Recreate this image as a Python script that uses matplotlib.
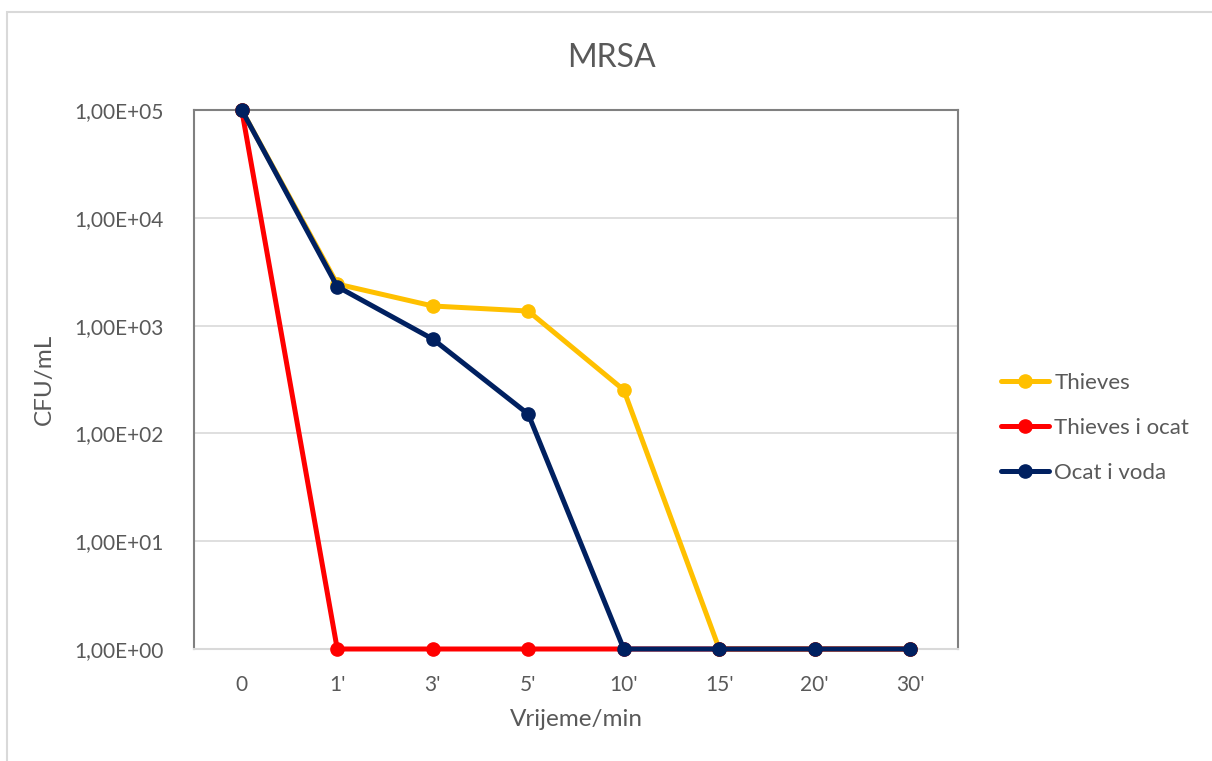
import matplotlib
matplotlib.use("Agg")
import matplotlib.pyplot as plt
from matplotlib.patches import Rectangle
from matplotlib.ticker import FixedLocator, NullLocator

categories = ["0", "1'", "3'", "5'", "10'", "15'", "20'", "30'"]
thieves = [1e5, 2430, 1520, 1365, 253, 1, 1, 1]
thieves_ocat = [1e5, 1, 1, 1, 1, 1, 1, 1]
ocat_voda = [1e5, 2300, 750, 151, 1, 1, 1, 1]
series_names = ["Thieves", "Thieves i ocat", "Ocat i voda"]
colors = ["#FFC000", "#FF0000", "#002060"]
yticks = [1e0, 1e1, 1e2, 1e3, 1e4, 1e5]
ytick_labels = ["1,00E+00", "1,00E+01", "1,00E+02", "1,00E+03", "1,00E+04", "1,00E+05"]

plt.rcParams['font.family'] = ['Lato', 'DejaVu Sans']
txt = "#595959"

fig = plt.figure(figsize=(12.12, 7.61), dpi=100)
fig.patches.append(Rectangle((7/1212, -0.01), 1.02, 1 - 12/761 + 0.01,
                             transform=fig.transFigure, fill=False,
                             edgecolor="#D9D9D9", linewidth=1.5))

ax = fig.add_axes([194/1212, 1 - 649/761, (958 - 194)/1212, (649 - 110)/761])
x = list(range(len(categories)))
for vals, name, c in zip([thieves, thieves_ocat, ocat_voda], series_names, colors):
    ax.plot(x, vals, color=c, linewidth=3.6, marker="o", markersize=9.5,
            label=name, solid_capstyle="round", zorder=3, clip_on=False)

ax.set_yscale("log")
ax.set_ylim(1, 1e5)
ax.set_xlim(-0.5, len(categories) - 0.5)
ax.yaxis.set_major_locator(FixedLocator(yticks))
ax.yaxis.set_minor_locator(NullLocator())
ax.set_yticks(yticks)
ax.set_yticklabels(ytick_labels)
ax.set_xticks(x)
ax.set_xticklabels(categories)
ax.tick_params(axis="both", length=0, labelsize=15, colors=txt)
ax.tick_params(axis="y", pad=22)
ax.tick_params(axis="x", pad=19)
ax.grid(axis="y", color="#D9D9D9", linewidth=1.2, zorder=0)
ax.set_axisbelow(True)
for s in ["left", "top", "right"]:
    ax.spines[s].set_color("#808080")
    ax.spines[s].set_linewidth(1.5)
ax.spines["bottom"].set_color("#D9D9D9")
ax.spines["bottom"].set_linewidth(1.5)

fig.text(611/1212, 1 - 58/761, "MRSA", fontsize=23, color=txt, ha="center", va="center")
ax.set_xlabel("Vrijeme/min", fontsize=17.5, color=txt, labelpad=10)
ax.set_ylabel("CFU/mL", fontsize=17.5, color=txt, labelpad=14)

leg = fig.legend(loc="upper left", bbox_to_anchor=(992/1212, 1 - 364/761),
                 frameon=False, fontsize=16, handlelength=2.15, handletextpad=0.25,
                 labelspacing=1.12, borderaxespad=0)
for t in leg.get_texts():
    t.set_color(txt)

fig.savefig("out.png", dpi=100)
